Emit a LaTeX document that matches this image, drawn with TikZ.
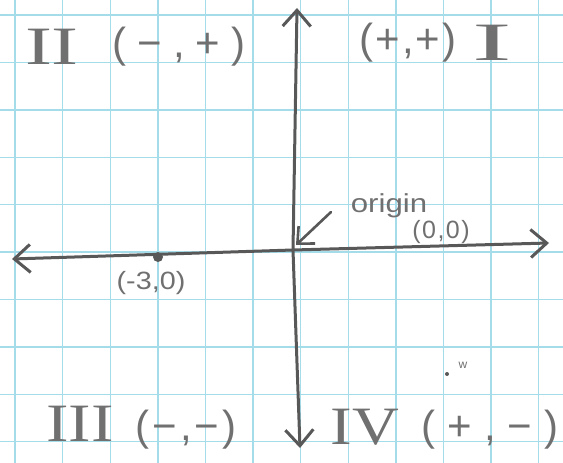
\documentclass[tikz,border=0pt]{standalone}
\usepackage{fontspec}
\setmainfont{Liberation Sans}
\newfontfamily\numfont{Liberation Serif}
\usetikzlibrary{arrows.meta}
\definecolor{gridc}{RGB}{165,220,234}
\definecolor{ink}{RGB}{88,88,88}
\definecolor{txt}{RGB}{112,112,112}
\newcommand{\hpair}[3]{(\hspace{#3}#1\hspace{#3},\hspace{#3}#2\hspace{#3})}
\begin{document}
\begin{tikzpicture}[x=1pt,y=-1pt,
  lbl/.style={text=txt, inner sep=0pt, font=\fontsize{42}{42}\selectfont},
  roman/.style={text=txt, inner sep=0pt, font=\numfont\fontsize{54}{54}\selectfont},
  small/.style={text=txt, inner sep=0pt, font=\fontsize{25}{25}\selectfont},
  axis/.style={draw=ink, line width=3pt, line cap=round, line join=round},
  tip/.style={-{Straight Barb[length=16pt,width=28pt,line width=3pt]}},
  gridline/.style={draw=gridc, line width=1.4pt}]
\useasboundingbox (0,0) rectangle (563,463);
\fill[white] (0,0) rectangle (563,463);
% grid
\foreach \k in {0,...,11} {
  \draw[gridline] ({15+47.6*\k},0) -- ({15+47.6*\k},463);
}
\foreach \k in {0,...,9} {
  \draw[gridline] (0,{15+47.4*\k}) -- (563,{15+47.4*\k});
}
% axes
\coordinate (O) at (293,250);
\coordinate (xl) at (12,259);
\coordinate (xr) at (549,243);
\coordinate (yt) at (297,8);
\coordinate (yb) at (300,448);
\draw[axis, tip] (O) -- (xr);
\draw[axis, tip] (O) -- (xl);
\draw[axis, tip] (O) -- (yt);
\draw[axis, tip] (O) -- (yb);
% origin pointer
\coordinate (op) at (331,212);
\coordinate (ot) at (296,245);
\draw[axis, line width=2.6pt, -{Straight Barb[length=13pt,width=24pt,line width=2.6pt]}] (op) -- (ot);
\node[small, font=\fontsize{26}{26}\selectfont, anchor=base] (origin) at (389,212) {\scalebox{1.2}[1]{origin}};
\node[small] (oo) at (441,232) {\hpair{0}{0}{1.5pt}};
% point (-3,0)
\node[circle, fill=ink, inner sep=0pt, minimum size=10pt] (p) at (158,257) {};
\node[small] (pl) at (151,283) {\scalebox{1.15}[1]{(-3,0)}};
% quadrant labels
\node[roman] (q2) at (52,47) {\scalebox{1.5}[1]{II}};
\node[lbl] (s2) at (179,47) {\hpair{−}{+}{11pt}};
\node[lbl] (s1) at (408,43) {\hpair{+}{+}{2pt}};
\node[roman] (q1) at (492,43) {\scalebox{2.2}[1]{I}};
\node[roman] (q3) at (80,424) {\scalebox{1.25}[1]{III}};
\node[lbl] (s3) at (186,430) {\hpair{−}{−}{3pt}};
\node[roman] (q4) at (365,427) {\scalebox{1.2}[1]{IV}};
\node[lbl] (s4) at (490,430) {\hpair{+}{−}{12pt}};
% stray marks
\node[circle, fill=ink, inner sep=0pt, minimum size=4pt] (dw) at (447,374) {};
\node[small, font=\fontsize{12}{12}\selectfont] (w) at (463,365) {w};
\end{tikzpicture}
\end{document}
